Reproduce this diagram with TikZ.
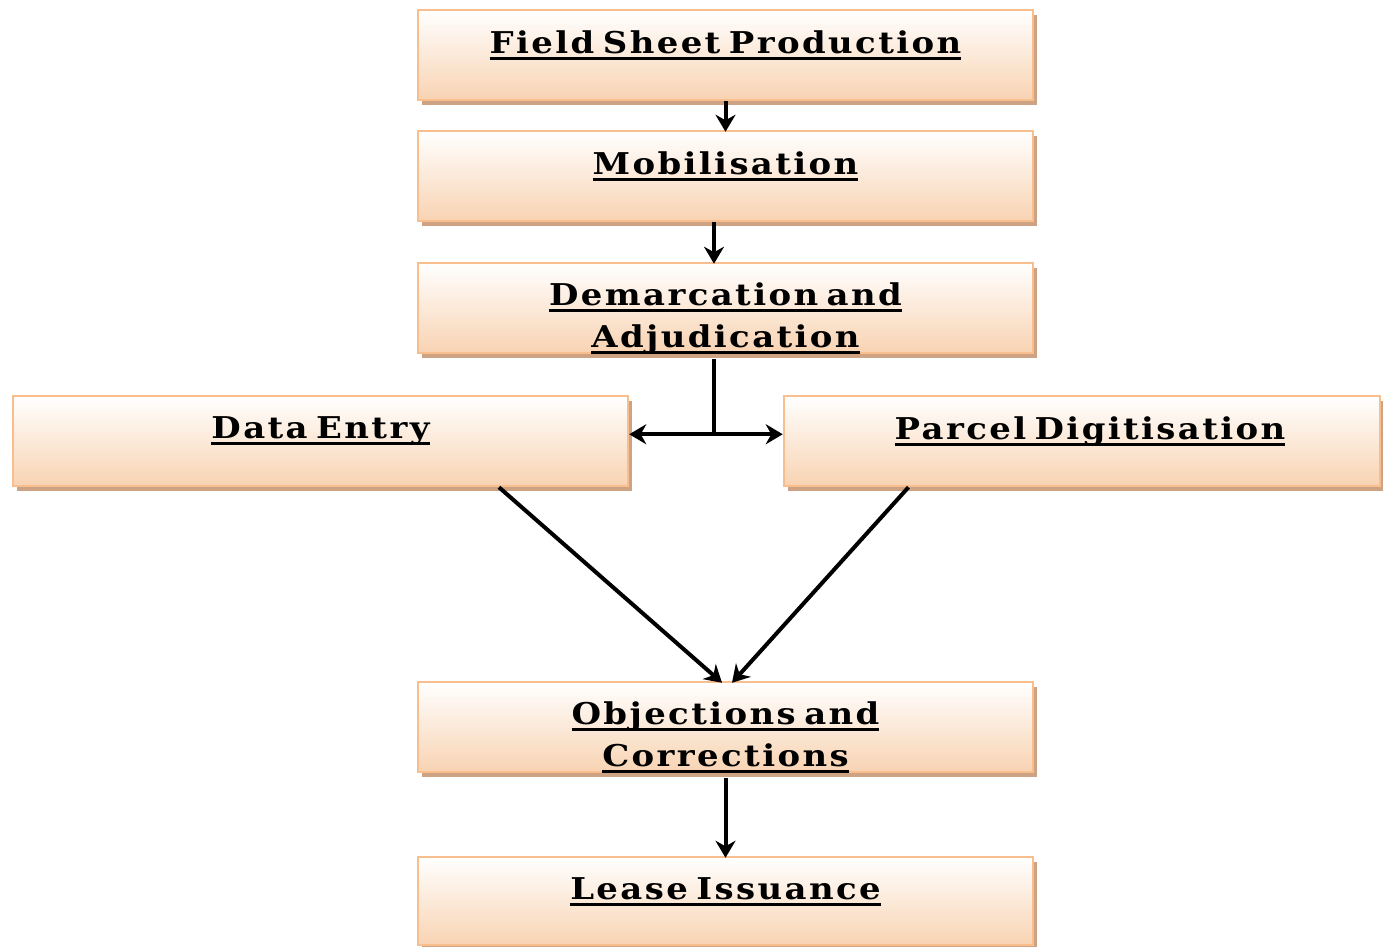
\documentclass[tikz,border=0pt]{standalone}
\usepackage{fontspec}
\setmainfont{DejaVu Serif}
\newfontfamily\boxfont[LetterSpace=8,FakeStretch=1.13,WordSpace=0.6]{DejaVu Serif}
\usetikzlibrary{shadows,arrows.meta,calc}
\definecolor{peach}{HTML}{F8D3B2}
\definecolor{edgec}{HTML}{F9BE8E}
\definecolor{shadowc}{HTML}{CDA384}
\newcommand\ulx[1]{\setbox0\hbox{#1}\rlap{\rule[-6pt]{\wd0}{2.8pt}}\box0}
\tikzset{
  box/.style={rectangle, draw=edgec, line width=2.5pt, top color=white, bottom color=peach,
    minimum height=90pt, minimum width=615pt, inner sep=0pt,
    drop shadow={shadow xshift=4pt, shadow yshift=-5pt, fill=shadowc, opacity=1}},
  lbl/.style={anchor=north, align=center, font=\boxfont\bfseries\fontsize{30}{42}\selectfont, inner sep=0pt},
  arr/.style={line width=4pt, -{Stealth[length=17pt,width=20pt]}},
  dbl/.style={line width=4pt, {Stealth[length=17pt,width=20pt]}-{Stealth[length=17pt,width=20pt]}},
  ln/.style={line width=4pt}
}
\begin{document}
\begin{tikzpicture}[x=1pt,y=-1pt]
\useasboundingbox (0,0) rectangle (1383,946);
\node[box] (f) at (725.5,55) {};
\node[box] (m) at (725.5,176) {};
\node[box] (dm) at (725.5,308) {};
\node[box] (d) at (320.5,441) {};
\node[box, minimum width=596pt] (p) at (1082,441) {};
\node[box] (o) at (725.5,727) {};
\node[box, minimum height=88pt] (l) at (725.5,901) {};
\node[lbl] (tf) at ([yshift=-22pt]f.north) {\ulx{Field Sheet Production}};
\node[lbl] (tm) at ([yshift=-22pt]m.north) {\ulx{Mobilisation}};
\node[lbl] (tdm) at ([yshift=-21pt]dm.north) {\ulx{Demarcation and}\\\ulx{Adjudication}};
\node[lbl] (td) at ([yshift=-22pt]d.north) {\ulx{Data Entry}};
\node[lbl] (tp) at ([xshift=8pt,yshift=-22pt]p.north) {\ulx{Parcel Digitisation}};
\node[lbl] (to) at ([yshift=-21pt]o.north) {\ulx{Objections and}\\\ulx{Corrections}};
\node[lbl] (tl) at ([yshift=-22pt]l.north) {\ulx{Lease Issuance}};
\draw[arr] (f.south) -- ([yshift=-2pt]m.north);
\draw[arr] ([xshift=-11.5pt]m.south) -- ([xshift=-11.5pt,yshift=-2pt]dm.north);
\draw[ln] ([xshift=-11.5pt,yshift=-5pt]dm.south) -- ++(0,75) coordinate (j);
\draw[dbl] (j -| d.east) -- (j -| p.west);
\draw[arr] ($(d.south west)!0.789!(d.south east)$) -- ([xshift=-3.5pt,yshift=-2pt]o.north);
\draw[arr] ($(p.south west)!0.21!(p.south east)$) -- ([xshift=6.5pt,yshift=-2pt]o.north);
\draw[arr] ([yshift=-5pt]o.south) -- ([yshift=-2pt]l.north);
\end{tikzpicture}
\end{document}
